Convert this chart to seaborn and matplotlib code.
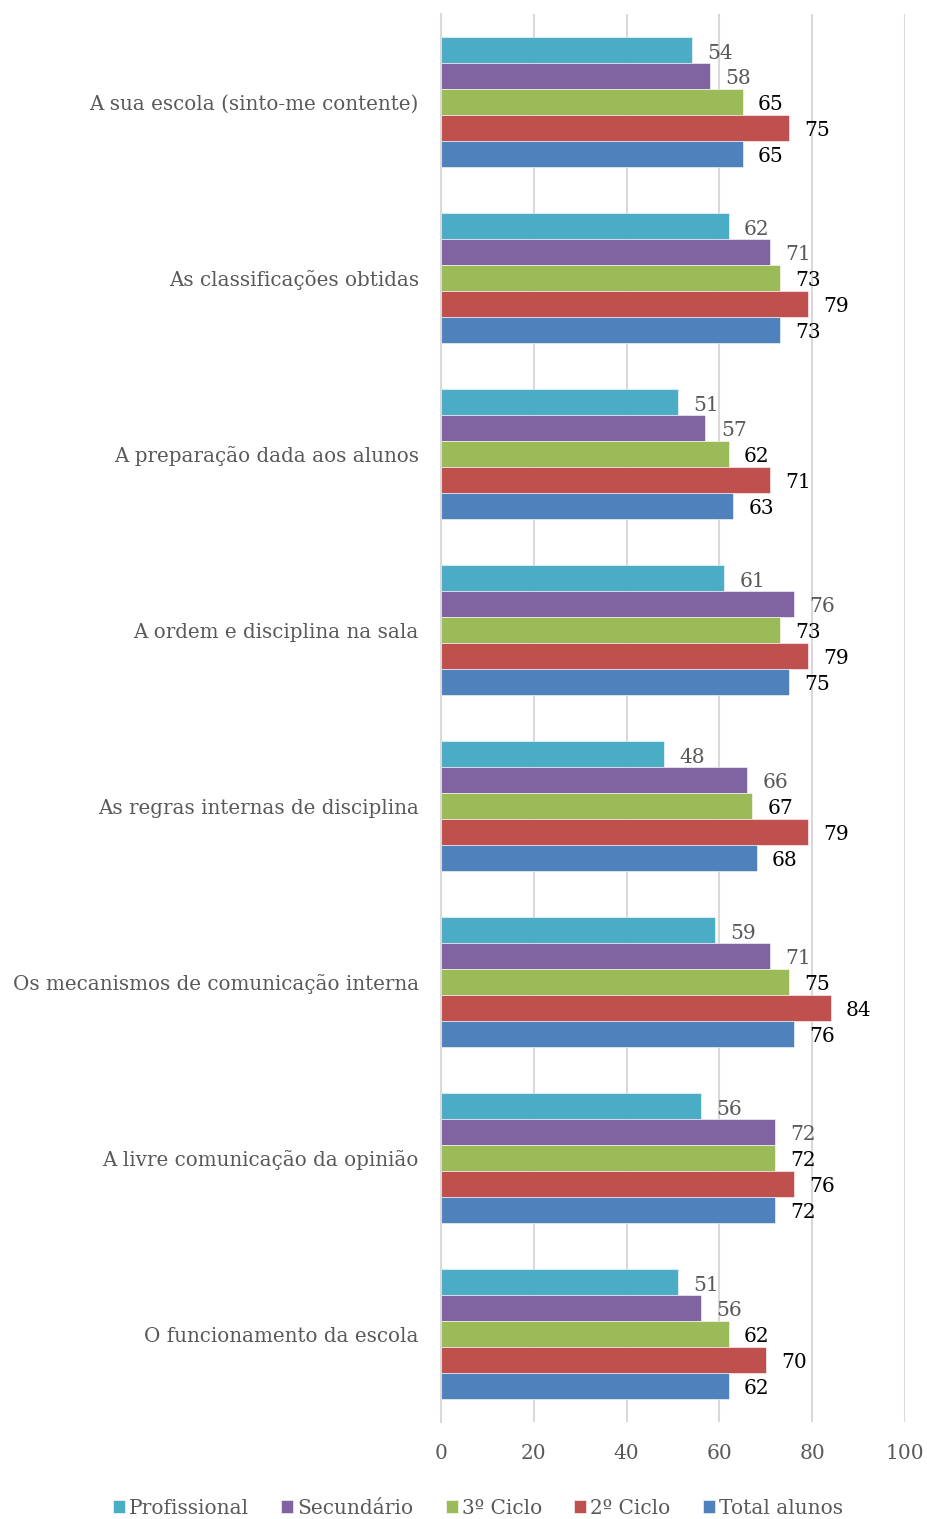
import matplotlib
matplotlib.use("Agg")
import matplotlib.pyplot as plt
import numpy as np
import pandas as pd
import seaborn as sns

categories = [
    "A sua escola (sinto-me contente)",
    "As classificações obtidas",
    "A preparação dada aos alunos",
    "A ordem e disciplina na sala",
    "As regras internas de disciplina",
    "Os mecanismos de comunicação interna",
    "A livre comunicação da opinião",
    "O funcionamento da escola",
]
series = ["Profissional", "Secundário", "3º Ciclo", "2º Ciclo", "Total alunos"]

profissional = [54, 62, 51, 61, 48, 59, 56, 51]
secundario = [58, 71, 57, 76, 66, 71, 72, 56]
ciclo3 = [65, 73, 62, 73, 67, 75, 72, 62]
ciclo2 = [75, 79, 71, 79, 79, 84, 76, 70]
total = [65, 73, 63, 75, 68, 76, 72, 62]

colors = ["#4BACC6", "#8064A2", "#9BBB59", "#C0504D", "#4F81BD"]
label_colors = ["#595959", "#595959", "black", "black", "black"]

values = [profissional, secundario, ciclo3, ciclo2, total]
rows = []
for s, vals in zip(series, values):
    for c, v in zip(categories, vals):
        rows.append({"categoria": c, "serie": s, "valor": v})
df = pd.DataFrame(rows)

sns.set_style("white")
plt.rcParams["font.family"] = ["DejaVu Serif"]
grey = "#595959"
line_grey = "#D9D9D9"

fig = plt.figure(figsize=(9.28, 15.19), dpi=100)
ax = fig.add_axes([441 / 928, 1 - 1422 / 1519, 464 / 928, (1422 - 14) / 1519])

sns.barplot(data=df, y="categoria", x="valor", hue="serie", order=categories,
            hue_order=series, palette=colors, saturation=1, orient="h",
            width=0.733, edgecolor="white", linewidth=0.4, ax=ax, legend=True)

for cont, lc in zip(ax.containers, label_colors):
    anns = ax.bar_label(cont, fmt="%.0f", padding=11, color=lc, fontsize=14.5)
    for a in anns:
        a.xyann = (11, -2)  # a touch lower, like the original

ax.set_xlim(0, 100)
ax.set_xticks(range(0, 101, 20))
ax.set_ylim(7.5, -0.5)
ax.set_xlabel("")
ax.set_ylabel("")
ax.grid(axis="x", color=line_grey, linewidth=1.5)
ax.set_axisbelow(True)
for side in ["top", "right", "bottom"]:
    ax.spines[side].set_visible(False)
ax.spines["left"].set_color(line_grey)
ax.spines["left"].set_linewidth(1.5)

ax.set_yticks(np.arange(-0.5, 8.0, 1.0), minor=True)
ax.tick_params(axis="y", which="major", length=0, pad=16, labelsize=14.3, labelcolor=grey)
ax.tick_params(axis="y", which="minor", length=5, color=line_grey, width=1.5, direction="out")
ax.tick_params(axis="x", length=0, pad=16, labelsize=14.5, labelcolor=grey)

handles, labels = ax.get_legend_handles_labels()
ax.get_legend().remove()
leg = fig.legend(handles, labels, loc="lower center", bbox_to_anchor=(0.515, -0.007),
                 ncol=5, frameon=False, fontsize=14.5, handlelength=0.6,
                 handleheight=0.6, handletextpad=0.2, columnspacing=1.6,
                 borderaxespad=0.2)
for t in leg.get_texts():
    t.set_color(grey)

fig.savefig("out.png", dpi=100)
